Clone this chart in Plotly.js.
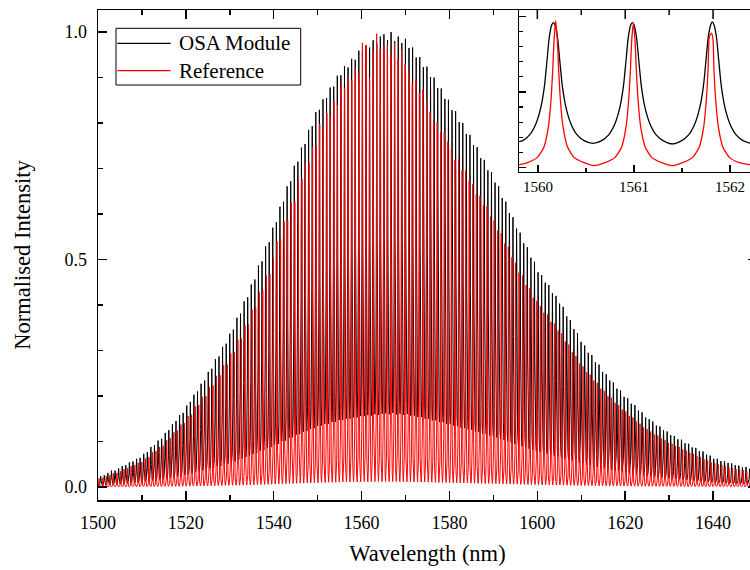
<!DOCTYPE html>
<html>
<head>
<meta charset="utf-8">
<script src="https://cdn.plot.ly/plotly-3.0.1.min.js"></script>
<style>
html,body{margin:0;padding:0;overflow:hidden;background:#fff;}
#chart{width:758px;height:570px;}
</style>
</head>
<body>
<div id="chart"></div>
<script>
// ---------- data ----------
// comb lines of the main plot: line 75 of both combs sits at 1561.0 nm (inset);
// the OSA comb is spaced slightly wider than the reference comb (inset peak positions)
const combAnchor = 1561.0;
const anchorIndex = 75;
const osaSpacing = 0.816;
const refSpacing = 0.810;

// height of every comb line in the main plot (percent of the maximum), left to right
const osaPeakPct = [
 2.0,2.4,2.6,3.1,3.6,3.6,
 4.1,4.6,4.8,5.4,5.6,6.2,6.4,
 7.3,7.7,8.8,9.2,10.2,10.6,
 11.9,12.5,13.8,14.5,15.8,16.3,
 17.9,18.7,20.3,21.0,22.7,23.4,
 25.3,26.0,28.1,28.7,30.8,31.5,
 33.7,34.6,37.2,38.1,40.8,41.7,
 44.5,45.6,48.7,49.6,52.9,53.8,57.0,
 58.2,61.6,62.7,66.1,67.2,70.6,
 71.5,74.6,75.4,78.5,79.3,82.4,
 82.9,85.2,85.5,87.8,88.0,90.4,
 90.5,92.5,92.2,94.1,93.9,95.9,
 95.7,97.1,96.6,98.2,97.5,99.0,
 99.5,98.2,100,98.0,99.0,97.6,98.5,
 96.5,96.6,94.4,94.5,92.3,92.4,
 90.1,90.0,87.7,87.6,85.3,85.1,
 82.8,82.6,80.2,80.0,77.6,77.4,
 75.1,74.7,72.3,71.9,69.6,69.2,
 66.9,66.1,63.5,62.7,60.2,59.3,
 56.8,55.9,53.6,52.7,50.4,49.5,47.2,
 46.6,44.9,44.4,42.6,42.0,40.3,
 39.6,37.5,36.7,34.7,33.8,31.9,
 31.1,29.5,29.0,27.4,26.9,25.3,
 24.8,23.4,23.0,21.6,21.2,19.8,
 19.5,18.3,18.0,16.8,16.4,15.3,14.9,
 14.4,13.5,13.3,12.5,12.2,11.4,
 11.2,10.5,10.4,9.6,9.5,8.7,
 8.6,7.9,7.8,7.1,6.9,6.2,
 6.2,5.7,5.7,5.3,5.2,4.8,
 4.7,4.3,4.4,4.0,4.0,3.6
];
const refPeakPct = [
 1.9,2.0,2.4,2.6,3.0,3.1,
 3.5,3.9,4.1,4.6,4.8,5.3,5.5,
 6.3,6.6,7.6,7.9,8.8,9.1,
 10.3,10.7,12.0,12.4,13.7,14.0,
 15.6,15.9,17.7,18.0,19.8,20.0,
 22.0,22.3,24.4,24.6,26.8,26.9,
 29.3,29.7,32.4,32.6,35.5,35.7,
 39.0,39.5,42.8,43.2,46.4,46.8,50.2,
 54.0,54.4,58.3,58.6,62.5,62.7,
 67.5,67.7,71.1,71.3,74.7,74.9,
 79.8,78.9,82.2,81.4,84.7,83.9,
 88.5,87.6,90.2,89.3,92.0,91.0,
 97.6,97.0,89.9,95.8,99.6,96.2,
 96.8,97.0,95.0,97.5,94.0,96.0,93.0,
 91.0,88.5,89.5,86.6,87.3,84.6,
 82.4,80.3,80.2,77.9,78.0,75.9,
 74.3,71.9,72.0,69.6,69.6,67.3,
 66.5,64.3,64.0,61.9,61.7,59.4,
 58.6,56.3,55.8,53.5,52.8,50.5,
 49.3,47.1,46.5,44.4,43.7,41.6,40.9,
 39.8,38.3,37.9,36.3,35.9,34.4,
 33.8,32.0,31.3,29.6,28.8,27.1,
 26.5,25.2,24.7,23.4,22.9,21.6,
 21.1,20.0,19.6,18.5,18.0,17.0,
 16.6,15.6,15.3,14.4,13.9,13.1,12.7,
 12.2,11.5,11.3,10.7,10.3,9.7,
 9.5,9.0,8.8,8.2,8.0,7.5,
 7.3,6.8,6.6,6.1,5.8,5.4,
 5.2,4.9,4.8,4.5,4.3,4.1,
 3.9,3.7,3.7,3.4,3.3,3.1
];

// inset (zoom on three lines), read point by point
const insetOsaX = [
 1559.802,1559.840,1559.910,1559.979,1560.031,1560.066,1560.094,1560.118,1560.142,1560.160,1560.178,1560.202,1560.226,1560.254,1560.289,1560.341,1560.410,1560.480,1560.571,
 1560.663,1560.733,1560.802,1560.854,1560.889,1560.917,1560.941,1560.965,1560.983,1561.001,1561.025,1561.049,1561.077,1561.112,1561.164,1561.233,1561.303,1561.400,
 1561.496,1561.566,1561.635,1561.687,1561.722,1561.750,1561.774,1561.798,1561.816,1561.834,1561.858,1561.882,1561.910,1561.945,1561.997,1562.066,1562.136,1562.226,1562.281];
const insetOsaY = [
 0.171,0.178,0.214,0.292,0.403,0.535,0.712,0.866,0.944,0.959,0.944,0.866,0.712,0.535,0.403,0.292,0.214,0.178,0.160,
 0.178,0.214,0.292,0.403,0.535,0.712,0.866,0.944,0.959,0.944,0.866,0.712,0.535,0.403,0.292,0.214,0.178,0.156,
 0.178,0.214,0.292,0.403,0.535,0.712,0.866,0.944,0.964,0.944,0.866,0.712,0.535,0.403,0.292,0.214,0.178,0.160,0.162];
const insetRefX = [1559.802,1559.889,1559.993,1560.063,1560.108,1560.135,1560.153,1560.167,1560.184,1560.201,1560.215,1560.233,1560.260,1560.306,1560.375,1560.479,1560.587,1560.698,1560.802,1560.872,1560.917,1560.944,1560.962,1560.976,1560.993,1561.010,1561.024,1561.042,1561.069,1561.115,1561.184,1561.288,1561.399,1561.507,1561.611,1561.681,1561.726,1561.753,1561.771,1561.785,1561.795,1561.809,1561.823,1561.833,1561.851,1561.878,1561.924,1561.993,1562.097,1562.208,1562.281];
const insetRefY = [0.017,0.032,0.067,0.138,0.270,0.447,0.646,0.844,0.972,0.844,0.646,0.447,0.270,0.138,0.067,0.032,0.012,0.032,0.067,0.138,0.270,0.447,0.646,0.844,0.955,0.844,0.646,0.447,0.270,0.138,0.067,0.032,0.012,0.032,0.067,0.138,0.270,0.447,0.646,0.871,0.880,0.889,0.844,0.646,0.447,0.270,0.138,0.067,0.032,0.019,0.017];

// one period of each line shape, taken from the middle line of the inset
const osaPeriod = {from: 18, to: 36, top: 27};
const refPeriod = {from: 16, to: 32, top: 24};

const seriesNames = ['OSA Module', 'Reference'];
const seriesColors = ['#000000', '#ff0000'];

// main-axis ticks that show above the inset (top border)
const topMajorTicks = [1600, 1620, 1640];
const topMinorTicks = [1610, 1630];

// ---------- build the main comb traces from the arrays ----------
function buildComb(peaksPct, spacing, shapeX, shapeY, period) {
  const xs = [], ys = [];
  const cx = shapeX[period.top], cy = shapeY[period.top];
  for (let i = 0; i < peaksPct.length; i++) {
    const centre = combAnchor + (i - anchorIndex) * spacing;
    const h = peaksPct[i] / 100;
    for (let k = period.from; k <= period.to; k++) {
      xs.push(centre + (shapeX[k] - cx));
      ys.push(h * shapeY[k] / cy);
    }
  }
  return {xs, ys};
}
const osaComb = buildComb(osaPeakPct, osaSpacing, insetOsaX, insetOsaY, osaPeriod);
const refComb = buildComb(refPeakPct, refSpacing, insetRefX, insetRefY, refPeriod);

const serif = '"Liberation Serif", "Times New Roman", Times, serif';

const traces = [
  {x: osaComb.xs, y: osaComb.ys, type: 'scatter', mode: 'lines', name: seriesNames[0],
   line: {color: seriesColors[0], width: 1}, xaxis: 'x', yaxis: 'y', showlegend: false, hoverinfo: 'skip'},
  {x: refComb.xs, y: refComb.ys, type: 'scatter', mode: 'lines', name: seriesNames[1],
   line: {color: seriesColors[1], width: 1}, xaxis: 'x', yaxis: 'y', showlegend: false, hoverinfo: 'skip'},
  {x: insetOsaX, y: insetOsaY, type: 'scatter', mode: 'lines', name: seriesNames[0],
   line: {color: seriesColors[0], width: 1.3, shape: 'spline', smoothing: 0.8}, xaxis: 'x2', yaxis: 'y2', showlegend: false, hoverinfo: 'skip'},
  {x: insetRefX, y: insetRefY, type: 'scatter', mode: 'lines', name: seriesNames[1],
   line: {color: seriesColors[1], width: 1.3, shape: 'spline', smoothing: 0.6}, xaxis: 'x2', yaxis: 'y2', showlegend: false, hoverinfo: 'skip'}
];

const axisCommon = {
  showline: true, linecolor: '#000', linewidth: 1.5,
  ticks: 'inside', tickcolor: '#000', tickwidth: 1.5,
  showgrid: false, zeroline: false, automargin: false
};

// legend box geometry in paper coordinates
const lg = {x0: 0.0273, x1: 0.3076, y0: 0.8469, y1: 0.9626, lx0: 0.0293, lx1: 0.1102, tx: 0.1199, row1: 0.9320, row2: 0.8761};

const shapes = [
  {type: 'rect', xref: 'paper', yref: 'paper', x0: lg.x0, x1: lg.x1, y0: lg.y0, y1: lg.y1,
   line: {color: '#000', width: 1}, fillcolor: '#fff', layer: 'above'},
  {type: 'line', xref: 'paper', yref: 'paper', x0: lg.lx0, x1: lg.lx1, y0: lg.row1, y1: lg.row1,
   line: {color: seriesColors[0], width: 1.2}, layer: 'above'},
  {type: 'line', xref: 'paper', yref: 'paper', x0: lg.lx0, x1: lg.lx1, y0: lg.row2, y1: lg.row2,
   line: {color: seriesColors[1], width: 1.2}, layer: 'above'}
];
topMajorTicks.forEach(v => shapes.push({type: 'line', xref: 'x', yref: 'paper', x0: v, x1: v, y0: 1, y1: 1 - 9 / 490,
  line: {color: '#000', width: 1.5}, layer: 'above'}));
topMinorTicks.forEach(v => shapes.push({type: 'line', xref: 'x', yref: 'paper', x0: v, x1: v, y0: 1, y1: 1 - 5 / 490,
  line: {color: '#000', width: 1.5}, layer: 'above'}));

const layout = {
  width: 758, height: 570,
  margin: {l: 98, r: 1, t: 10, b: 70},
  paper_bgcolor: '#fff', plot_bgcolor: '#fff',
  font: {family: serif, color: '#000'},
  showlegend: false,
  xaxis: Object.assign({}, axisCommon, {
    domain: [0, 1], range: [1500, 1650], anchor: 'y',
    tickmode: 'linear', tick0: 1500, dtick: 20, ticklen: 9,
    mirror: 'ticks', tickfont: {size: 18, family: serif}, ticklabelstandoff: 6,
    minor: {tick0: 1500, dtick: 10, ticks: 'inside', ticklen: 5, tickwidth: 1.5, tickcolor: '#000'},
    title: {text: 'Wavelength (nm)', font: {size: 22.5, family: serif}, standoff: 13}
  }),
  yaxis: Object.assign({}, axisCommon, {
    domain: [0, 1], range: [-0.0286, 1.0484], anchor: 'x',
    tickmode: 'linear', tick0: 0, dtick: 0.5, tickformat: '.1f', ticklen: 9,
    mirror: 'ticks', tickfont: {size: 18, family: serif}, ticklabelstandoff: 6,
    minor: {tick0: 0, dtick: 0.1, ticks: 'inside', ticklen: 5, tickwidth: 1.5, tickcolor: '#000'},
    title: {text: 'Normalised Intensity', font: {size: 22.5, family: serif}, standoff: 27}
  }),
  xaxis2: Object.assign({}, axisCommon, {
    domain: [0.6389, 1], range: [1559.802, 1562.281], anchor: 'y2',
    tickmode: 'linear', tick0: 1560, dtick: 1, ticklen: 7, mirror: true,
    tickfont: {size: 15, family: serif}, ticklabelstandoff: 1,
    minor: {tick0: 1560, dtick: 0.5, ticks: 'inside', ticklen: 4, tickwidth: 1.2, tickcolor: '#000'}
  }),
  yaxis2: Object.assign({}, axisCommon, {
    domain: [0.670, 1], range: [-0.028, 1.043], anchor: 'x2',
    tickmode: 'linear', tick0: 0, dtick: 0.5, ticklen: 7, mirror: true, showticklabels: false,
    minor: {tick0: 0, dtick: 0.1, ticks: 'inside', ticklen: 4, tickwidth: 1.2, tickcolor: '#000'}
  }),
  shapes: shapes,
  annotations: [
    {xref: 'paper', yref: 'paper', x: lg.tx, y: lg.row1, xanchor: 'left', yanchor: 'middle',
     text: seriesNames[0], showarrow: false, font: {size: 21, family: serif, color: '#000'}},
    {xref: 'paper', yref: 'paper', x: lg.tx, y: lg.row2, xanchor: 'left', yanchor: 'middle',
     text: seriesNames[1], showarrow: false, font: {size: 21, family: serif, color: '#000'}}
  ]
};

Plotly.newPlot('chart', traces, layout, {staticPlot: true, displayModeBar: false});
</script>
</body>
</html>
